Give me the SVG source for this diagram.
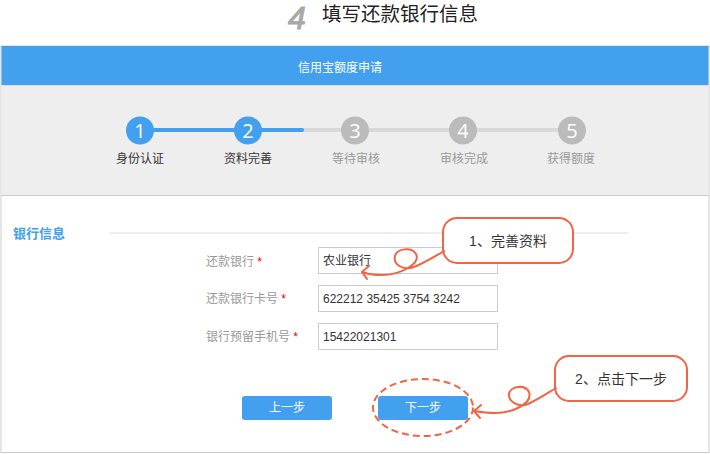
<svg xmlns="http://www.w3.org/2000/svg" width="710" height="454" viewBox="0 0 710 454">
<defs>
<style>
.t{font-family:"Liberation Sans","Noto Sans CJK SC",sans-serif;}
.lbl{font-size:12px;fill:#999;}
.star{fill:#e00;font-size:12px;}
.inp{fill:#fff;stroke:#ccc;stroke-width:1;}
.val{font-size:12px;fill:#333;}
.btn{fill:#42a0ee;}
.btxt{font-size:12px;fill:#fff;}
.on{fill:#42a0ee;}
.off{fill:#bbb;}
.num{font-size:20px;fill:#fff;font-family:"Open Sans","Liberation Sans",sans-serif;}
.callout{fill:#fff;stroke:#f26444;stroke-width:2;}
.ctxt{font-size:14px;fill:#333;}
.conn{fill:none;stroke:#f26444;stroke-width:2;stroke-linecap:round;stroke-linejoin:round;}
</style>
</defs>
<rect width="710" height="454" fill="#fff"/>
<!-- title -->
<text x="288" y="29" font-size="32" font-style="italic" fill="#a8a8a8" stroke="#a8a8a8" stroke-width="1" font-family="Liberation Sans,sans-serif">4</text>
<text class="t" x="322" y="21" font-size="19.5" fill="#222">填写还款银行信息</text>
<!-- frame -->
<rect x="1" y="46" width="708" height="406.5" fill="#fff" stroke="#ccc" stroke-width="1"/>
<rect x="1.5" y="46" width="707" height="39" fill="#42a0ee"/>
<text class="t" x="340" y="72" font-size="12" fill="#fff" text-anchor="middle">信用宝额度申请</text>
<rect x="1.5" y="85" width="707" height="110" fill="#eee"/>
<line x1="1" y1="85.5" x2="709" y2="85.5" stroke="#ddd"/>
<line x1="1" y1="195.5" x2="709" y2="195.5" stroke="#ccc"/>
<!-- progress -->
<g id="progress">
<line x1="248" y1="130" x2="572" y2="130" stroke="#d8d8d8" stroke-width="4"/>
<line x1="140" y1="130" x2="302" y2="130" stroke="#42a0ee" stroke-width="4" stroke-linecap="round"/>
</g>
<g id="step1"><circle cx="140" cy="130.5" r="14" class="on"/><text class="num" x="140" y="137.5" text-anchor="middle">1</text><text class="t" x="140" y="163" font-size="12" fill="#333" text-anchor="middle">身份认证</text></g>
<g id="step2"><circle cx="248" cy="130.5" r="14" class="on"/><text class="num" x="248" y="137.5" text-anchor="middle">2</text><text class="t" x="248" y="163" font-size="12" fill="#333" text-anchor="middle">资料完善</text></g>
<g id="step3"><circle cx="355" cy="130.5" r="14" class="off"/><text class="num" x="355" y="137.5" text-anchor="middle">3</text><text class="t" x="356" y="163" font-size="12" fill="#999" text-anchor="middle">等待审核</text></g>
<g id="step4"><circle cx="463" cy="130.5" r="14" class="off"/><text class="num" x="463" y="137.5" text-anchor="middle">4</text><text class="t" x="464" y="163" font-size="12" fill="#999" text-anchor="middle">审核完成</text></g>
<g id="step5"><circle cx="572" cy="130.5" r="14" class="off"/><text class="num" x="572" y="137.5" text-anchor="middle">5</text><text class="t" x="571" y="163" font-size="12" fill="#999" text-anchor="middle">获得额度</text></g>
<!-- section -->
<text class="t" x="13" y="238" font-size="13" font-weight="bold" fill="#42a0ee">银行信息</text>
<line x1="109" y1="233" x2="628" y2="233" stroke="#eee" stroke-width="2"/>
<!-- form -->
<g id="field-bank">
<text class="t lbl" x="206" y="266">还款银行 <tspan class="star">*</tspan></text>
<rect class="inp" x="318.5" y="247.5" width="179" height="26"/>
<text class="t val" x="323" y="265">农业银行</text>
<path d="M484 261 l3 3 l3 -3" fill="none" stroke="#ccc"/>
</g>
<g id="field-card">
<text class="t lbl" x="206" y="303">还款银行卡号 <tspan class="star">*</tspan></text>
<rect class="inp" x="318.5" y="285.5" width="179" height="26"/>
<text class="t val" x="323" y="303">622212 35425 3754 3242</text>
</g>
<g id="field-phone">
<text class="t lbl" x="206" y="341">银行预留手机号 <tspan class="star">*</tspan></text>
<rect class="inp" x="318.5" y="323.5" width="179" height="26"/>
<text class="t val" x="323" y="341">15422021301</text>
</g>
<g id="btn-prev"><rect class="btn" x="242" y="396" width="90" height="24" rx="3"/><text class="t btxt" x="287" y="412" text-anchor="middle">上一步</text></g>
<g id="btn-next"><rect class="btn" x="378" y="396" width="90" height="24" rx="3"/><text class="t btxt" x="423" y="412" text-anchor="middle">下一步</text></g>
<ellipse cx="423" cy="407.5" rx="50" ry="28.5" fill="none" stroke="#f26444" stroke-width="2" stroke-dasharray="7,4"/>
<!-- callouts -->
<g id="callout1"><rect class="callout" x="443" y="218" width="130" height="45" rx="14"/><text class="t ctxt" x="508" y="246" text-anchor="middle">1、完善资料</text></g>
<g id="callout2"><rect class="callout" x="555" y="356" width="132" height="45" rx="14"/><text class="t ctxt" x="621" y="384" text-anchor="middle">2、点击下一步</text></g>
<g id="connectors">
<path class="conn" d="M444 251 C432 258 424 263 414 267 C402 271 393 264 395 256 C397 248 412 247 416 254 C421 264 400 275 382 275 C374 275 367 274 362 272"/>
<path class="conn" d="M362 272 L369 266 M362 272 L367 279"/>
<path class="conn" d="M556 388 C546 394 539 399 528 404 C518 408 508 401 509 394 C510 386 525 384 529 392 C533 404 512 413 495 413 C487 413 480 412 474 411"/>
<path class="conn" d="M474 411 L481 405 M474 411 L480 418"/>
</g>
</svg>
